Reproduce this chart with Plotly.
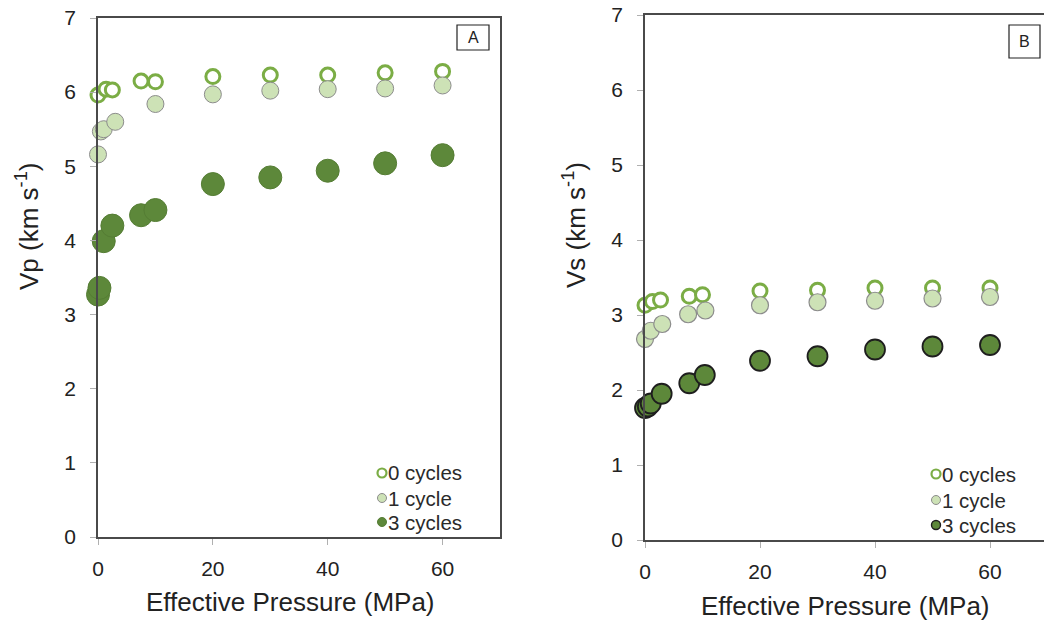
import plotly.graph_objects as go

# ---------------- data ----------------
# Panel A: Vp (km/s) vs effective pressure (MPa)
vp_x_0 = [0, 1.4, 2.5, 7.5, 10, 20, 30, 40, 50, 60]
vp_y_0 = [5.96, 6.04, 6.03, 6.15, 6.14, 6.21, 6.23, 6.23, 6.26, 6.28]
vp_x_1 = [0, 0.5, 1, 3, 10, 20, 30, 40, 50, 60]
vp_y_1 = [5.16, 5.47, 5.50, 5.60, 5.84, 5.97, 6.02, 6.04, 6.05, 6.09]
vp_x_3 = [0, 0.25, 1, 2.5, 7.5, 10, 20, 30, 40, 50, 60]
vp_y_3 = [3.27, 3.36, 3.99, 4.20, 4.34, 4.41, 4.76, 4.85, 4.94, 5.04, 5.15]

# Panel B: Vs (km/s) vs effective pressure (MPa)
vs_x_0 = [0, 1.3, 2.7, 7.7, 10, 20, 30, 40, 50, 60]
vs_y_0 = [3.13, 3.18, 3.20, 3.25, 3.27, 3.32, 3.33, 3.36, 3.36, 3.36]
vs_x_1 = [0, 1, 3, 7.5, 10.5, 20, 30, 40, 50, 60]
vs_y_1 = [2.68, 2.79, 2.88, 3.01, 3.06, 3.13, 3.17, 3.19, 3.22, 3.24]
vs_x_3 = [0, 0.5, 1, 2.9, 7.7, 10.4, 20, 30, 40, 50, 60]
vs_y_3 = [1.76, 1.78, 1.82, 1.95, 2.09, 2.20, 2.39, 2.45, 2.54, 2.58, 2.60]

series_labels = ["0 cycles", "1 cycle", "3 cycles"]
x_ticks = [0, 20, 40, 60]
y_ticks = [0, 1, 2, 3, 4, 5, 6, 7]
panel_labels = ["A", "B"]
x_title = "Effective Pressure (MPa)"
y_titles = ["Vp (km s<sup>-1</sup>)", "Vs (km s<sup>-1</sup>)"]

# ---------------- style ----------------
W, H = 1044, 622
FONT = "Liberation Sans, Arial, Helvetica, sans-serif"
GREEN_RING = "#7bad45"
LIGHT_FILL = "#cde2b6"
LIGHT_EDGE = "#8c8c8c"
DARK_FILL = "#5d883a"
DARK_EDGE_A = "#557d34"
DARK_EDGE_B = "#1e1e1e"
TXT = "#222222"


def px(x):
    return x / W


def py(y):
    return 1 - y / H


fig = go.Figure()

# Panel A traces
fig.add_trace(go.Scatter(x=vp_x_0, y=vp_y_0, mode="markers", name=series_labels[0],
                         marker=dict(size=14, color="white", line=dict(color=GREEN_RING, width=3)),
                         cliponaxis=False, xaxis="x", yaxis="y", showlegend=False))
fig.add_trace(go.Scatter(x=vp_x_1, y=vp_y_1, mode="markers", name=series_labels[1],
                         marker=dict(size=17, color=LIGHT_FILL, line=dict(color=LIGHT_EDGE, width=1)),
                         cliponaxis=False, xaxis="x", yaxis="y", showlegend=False))
fig.add_trace(go.Scatter(x=vp_x_3, y=vp_y_3, mode="markers", name=series_labels[2],
                         marker=dict(size=23, color=DARK_FILL, line=dict(color=DARK_EDGE_A, width=1)),
                         cliponaxis=False, xaxis="x", yaxis="y", showlegend=False))

# Panel B traces
fig.add_trace(go.Scatter(x=vs_x_0, y=vs_y_0, mode="markers", name=series_labels[0],
                         marker=dict(size=14, color="white", line=dict(color=GREEN_RING, width=3)),
                         cliponaxis=False, xaxis="x2", yaxis="y2", showlegend=False))
fig.add_trace(go.Scatter(x=vs_x_1, y=vs_y_1, mode="markers", name=series_labels[1],
                         marker=dict(size=17, color=LIGHT_FILL, line=dict(color=LIGHT_EDGE, width=1.2)),
                         cliponaxis=False, xaxis="x2", yaxis="y2", showlegend=False))
fig.add_trace(go.Scatter(x=vs_x_3, y=vs_y_3, mode="markers", name=series_labels[2],
                         marker=dict(size=20, color=DARK_FILL, line=dict(color=DARK_EDGE_B, width=1.8)),
                         cliponaxis=False, xaxis="x2", yaxis="y2", showlegend=False))

axis_common = dict(
    showgrid=False, zeroline=False, showline=True, linecolor="#4a4a4a", linewidth=1.5,
    ticks="outside", ticklen=6, tickcolor="#b0b0b0", tickwidth=1, automargin=False,
    tickfont=dict(family=FONT, size=21, color=TXT),
)

fig.update_layout(
    width=W, height=H,
    margin=dict(l=0, r=0, t=0, b=0, autoexpand=False),
    paper_bgcolor="white", plot_bgcolor="white",
    font=dict(family=FONT, color=TXT),
    xaxis=dict(domain=[px(98), px(500)], range=[0, 70], tickvals=x_ticks, anchor="y",
               mirror=True, ticklabelstandoff=6, **axis_common),
    yaxis=dict(domain=[py(537), py(18)], range=[0, 7], tickvals=y_ticks, anchor="x",
               mirror=True, ticklabelstandoff=10, **axis_common),
    xaxis2=dict(domain=[px(645), 1.0], range=[0, (W - 645) / 5.75], tickvals=x_ticks, anchor="y2",
                mirror=True, ticklabelstandoff=6, **axis_common),
    yaxis2=dict(domain=[py(540), py(15)], range=[0, 7], tickvals=y_ticks, anchor="x2",
                mirror=False, ticklabelstandoff=10, **axis_common),
)

annotations = []
shapes = []


def ann(text, x, y, size, xanchor="center", **kw):
    return dict(text=text, x=px(x), y=py(y), xref="paper", yref="paper",
                xanchor=xanchor, yanchor="middle", showarrow=False,
                font=dict(family=FONT, size=size, color=kw.pop("color", TXT)), **kw)


# Axis titles
annotations.append(ann(x_title, 290, 602, 26))
annotations.append(ann(x_title, 845, 606, 26))
annotations.append(ann(y_titles[0], 27, 227, 26, textangle=-90))
annotations.append(ann(y_titles[1], 574, 225, 26, textangle=-90))

# Panel label boxes
for lab, (x0, y0, x1, y1) in zip(panel_labels, [(457, 25, 489, 50), (1009, 25, 1040, 58)]):
    shapes.append(dict(type="rect", xref="paper", yref="paper",
                       x0=px(x0), x1=px(x1), y0=py(y1), y1=py(y0),
                       line=dict(color="#222222", width=1.2), fillcolor="white"))
    annotations.append(ann(lab, (x0 + x1) / 2, (y0 + y1) / 2, 16))

# Legends (inside each panel, bottom right)
legend_styles_A = [
    dict(fill="white", edge=GREEN_RING, w=2.2),
    dict(fill=LIGHT_FILL, edge=LIGHT_EDGE, w=1),
    dict(fill=DARK_FILL, edge=DARK_EDGE_A, w=1),
]
legend_styles_B = [
    dict(fill="white", edge=GREEN_RING, w=2.2),
    dict(fill=LIGHT_FILL, edge=LIGHT_EDGE, w=1),
    dict(fill=DARK_FILL, edge=DARK_EDGE_B, w=1.4),
]
for mx, tx, ys, styles in [(382, 386, [473, 498, 522], legend_styles_A),
                           (936, 940, [474, 500, 525], legend_styles_B)]:
    for lab, yy, st in zip(series_labels, ys, styles):
        r = 4.5
        shapes.append(dict(type="circle", xref="paper", yref="paper",
                           xsizemode="pixel", ysizemode="pixel",
                           xanchor=px(mx), yanchor=py(yy),
                           x0=-r, x1=r, y0=-r, y1=r,
                           fillcolor=st["fill"], line=dict(color=st["edge"], width=st["w"])))
        annotations.append(ann(lab, tx, yy, 20.5, xanchor="left", color="#2a2a2a"))

fig.update_layout(annotations=annotations, shapes=shapes)

fig.write_html("out.html", config={"displayModeBar": False},
               post_script="document.body.style.margin='0px';document.body.style.overflow='hidden';")
